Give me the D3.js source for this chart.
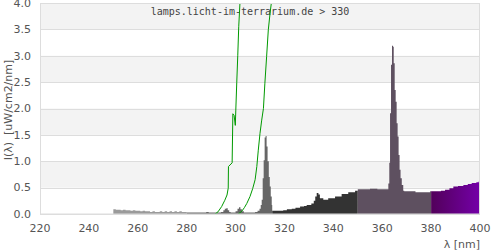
<!DOCTYPE html>
<html lang="en">
<head>
<meta charset="UTF-8">
<title>Lamp spectrum</title>
<script src="https://d3js.org/d3.v7.min.js"></script>
<style>
    body { margin: 0; background: #fff; }
    text { font-family: "DejaVu Sans", sans-serif; font-size: 11px; fill: #555; }
    .title { font-family: "DejaVu Sans Mono", monospace; font-size: 10px; fill: #444; }
    .grid { stroke: #ddd; stroke-width: 1px; }
    .green { fill: none; stroke: #009900; stroke-width: 1px; }
</style>
</head>
<body>
<svg id="chart" width="500" height="250"></svg>
<script>
// spectrum, [wavelength nm, intensity] steps per band
const uvcData = [
    [250, 0.09], [251, 0.08], [252, 0.08], [253, 0.07], [254, 0.08], [255, 0.07],
    [256, 0.07], [257, 0.06], [258, 0.07], [259, 0.06], [260, 0.06], [261, 0.05],
    [262, 0.06], [263, 0.05], [264, 0.05], [265, 0.04], [266, 0.05], [267, 0.04],
    [268, 0.04], [269, 0.05], [270, 0.04], [271, 0.05], [272, 0.04], [273, 0.05],
    [274, 0.04], [275, 0.05], [276, 0.04], [277, 0.05], [278, 0.04], [279, 0.04]
];
const uvbData = [
    [280, 0.03], [282, 0.03], [284, 0.03], [286, 0.03], [288, 0.04], [289, 0.03],
    [292, 0.03], [294, 0.04], [295, 0.07], [295.6, 0.1], [296.2, 0.11], [296.8, 0.07],
    [297.4, 0.04], [298, 0.03], [300, 0.05], [300.8, 0.1], [301.4, 0.13], [302, 0.09],
    [302.6, 0.05], [303.4, 0.03], [306, 0.03], [308, 0.04], [309, 0.06], [309.8, 0.1],
    [310.3, 0.17], [310.7, 0.27], [311.1, 0.68], [311.5, 1.02], [311.9, 1.45],
    [312.3, 1.48], [312.7, 1.28], [313.1, 1.0], [313.6, 0.7], [314.0, 0.52],
    [314.4, 0.33], [314.8, 0.17]
];
const uva2Data = [
    [315, 0.06], [317, 0.06], [319.5, 0.07], [321, 0.09], [323, 0.1], [324.5, 0.12],
    [326.4, 0.14], [328, 0.15], [329.1, 0.17], [331, 0.2], [332, 0.25], [332.6, 0.33],
    [333.2, 0.4], [333.9, 0.37], [334.5, 0.3], [335.9, 0.27], [337.9, 0.3],
    [340.7, 0.33], [343.4, 0.38], [346.1, 0.41], [348.9, 0.44]
];
const uva1Data = [
    [350, 0.47], [352, 0.47], [355, 0.48], [358, 0.47], [360, 0.47], [362.5, 0.58],
    [362.9, 0.97], [363.2, 1.91], [363.6, 2.83], [364.0, 3.19], [364.4, 3.17],
    [364.7, 2.86], [365.1, 2.35], [365.5, 2.13], [365.9, 1.72], [366.3, 1.47],
    [366.7, 1.12], [367.1, 0.84], [367.5, 0.68], [368.0, 0.55], [368.6, 0.44],
    [369, 0.43], [373.6, 0.41], [379.6, 0.43]
];
const visData = [
    [380, 0.43], [382, 0.43], [384, 0.44], [385.7, 0.46], [387.5, 0.49], [389.1, 0.52],
    [391, 0.53], [393.2, 0.55], [395, 0.57], [396.6, 0.59], [398.5, 0.6], [399.5, 0.62]
];
const bandEnds = [280, 315, 350, 380, 400];
const bandColors = ["#9a9a9a", "#666666", "#333333", "#5e5060", "url(#visGrad)"];

// green curves
const greenA = [
    [291.6, 0], [292.8, 0.04], [294.3, 0.14], [295.6, 0.26], [296.5, 0.36], [297.0, 0.49],
    [297.1, 0.9], [298.6, 0.97], [298.9, 1.9], [299.4, 1.87], [299.9, 1.68], [300.1, 1.97],
    [300.5, 2.5], [300.9, 3.0], [301.3, 3.55], [301.8, 4.0], [302.2, 4.5]
];
const greenB = [
    [301.1, 0], [302.5, 0.05], [303.6, 0.12], [304.6, 0.2], [305.9, 0.33], [307.0, 0.48],
    [308.0, 0.65], [308.7, 0.9], [309.3, 1.21], [310.0, 1.53], [310.7, 1.78], [311.4, 2.0],
    [312.0, 2.48], [312.7, 2.98], [313.4, 3.49], [314.1, 3.8], [314.8, 4.06], [315.2, 4.4]
];

const xTicks = [220, 240, 260, 280, 300, 320, 340, 360, 380, 400];
const yTicks = [0, 0.5, 1, 1.5, 2, 2.5, 3, 3.5, 4];
const titleText = "lamps.licht-im-terrarium.de > 330";

const svg = d3.select("#chart");
const x = d3.scaleLinear().domain([220, 400]).range([40, 480]);
const y = d3.scaleLinear().domain([0, 4]).range([214, 3]);

const defs = svg.append("defs");
defs.append("clipPath").attr("id", "plotClip")
    .append("rect").attr("x", 40).attr("y", 3).attr("width", 440).attr("height", 211);
const grad = defs.append("linearGradient").attr("id", "visGrad")
    .attr("gradientUnits", "userSpaceOnUse")
    .attr("x1", x(380)).attr("x2", x(400)).attr("y1", 0).attr("y2", 0);
grad.append("stop").attr("offset", 0).attr("stop-color", "#52005a");
grad.append("stop").attr("offset", 1).attr("stop-color", "#7400a8");

// alternating bands
const bandPairs = d3.pairs(yTicks).filter((d, i) => i % 2 === 1);
svg.append("g").selectAll("rect").data(bandPairs).join("rect")
    .attr("x", x(220)).attr("width", x(400) - x(220))
    .attr("y", d => y(d[1])).attr("height", d => y(d[0]) - y(d[1]))
    .attr("fill", "#f3f3f3");

svg.append("g").selectAll("line").data(yTicks).join("line")
    .attr("class", "grid")
    .attr("x1", x(220)).attr("x2", x(400))
    .attr("y1", d => Math.round(y(d)) + 0.5).attr("y2", d => Math.round(y(d)) + 0.5);

svg.append("text").attr("class", "title")
    .attr("x", 250).attr("y", 15).attr("text-anchor", "middle")
    .text(titleText);

// spectrum bands
const area = d3.area()
    .x(d => x(d[0])).y0(y(0)).y1(d => y(d[1]))
    .curve(d3.curveStepAfter);
const bands = [uvcData, uvbData, uva2Data, uva1Data, visData];
bands.forEach((data, i) => {
    const pts = data.concat([[bandEnds[i], data[data.length - 1][1]]]);
    svg.append("path").datum(pts)
        .attr("d", area)
        .attr("fill", bandColors[i]);
});

// green curves
const line = d3.line().x(d => x(d[0])).y(d => y(d[1]));
const gGreen = svg.append("g").attr("clip-path", "url(#plotClip)");
[greenA, greenB].forEach(data => {
    gGreen.append("path").datum(data).attr("class", "green").attr("d", line);
});

// frame
svg.append("rect")
    .attr("x", 40.5).attr("y", 3.5).attr("width", 439).attr("height", 210.5)
    .attr("fill", "none").attr("stroke", "#ddd");

// axes labels
svg.append("g").selectAll("text").data(yTicks).join("text")
    .attr("x", 31).attr("y", d => y(d)).attr("dy", "0.35em")
    .attr("text-anchor", "end")
    .text(d => d3.format(".1f")(d));

svg.append("g").selectAll("text").data(xTicks).join("text")
    .attr("x", d => x(d)).attr("y", 232)
    .attr("text-anchor", "middle")
    .text(d => d);

svg.append("text")
    .attr("x", 480).attr("y", 248).attr("text-anchor", "end")
    .text("λ [nm]");

svg.append("text")
    .attr("transform", "translate(12,110) rotate(-90)")
    .attr("text-anchor", "middle")
    .attr("xml:space", "preserve")
    .text("I(λ)  [uW/cm2/nm]");
</script>
</body>
</html>
